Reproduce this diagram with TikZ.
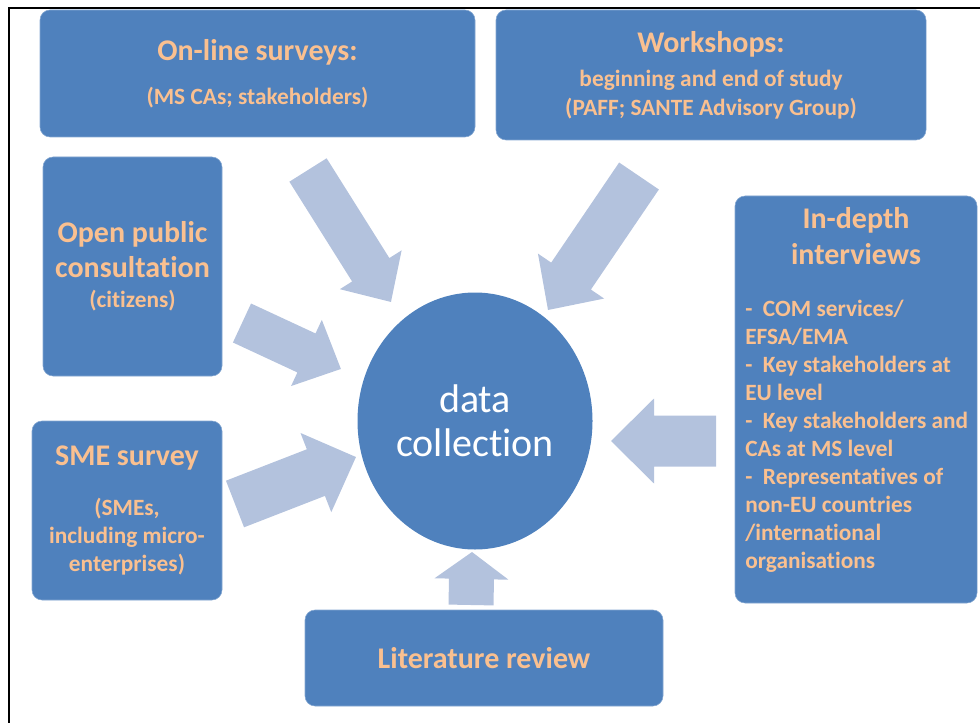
\documentclass[tikz,border=0pt]{standalone}
\usepackage{fontspec}
\setmainfont{Carlito}[Ligatures=NoCommon]
\usetikzlibrary{calc,shapes.geometric}

\definecolor{boxblue}{HTML}{4F81BD}
\definecolor{arrowblue}{HTML}{B3C2DD}
\definecolor{labelorange}{HTML}{FAC090}

\newcommand{\ttlsize}{\fontsize{22.5}{27}\selectfont}
\newcommand{\subsize}{\fontsize{17.5}{21}\selectfont}

% wide arrow from #1 to #2, shaft width #3, head width #4, head length #5 (px)
\newcommand{\blockarrow}[5]{%
  \path let \p1=($(#2)-(#1)$) in
    \pgfextra{\pgfmathsetmacro\arrang{atan2(\y1,\x1)}%
              \pgfmathsetmacro\arrlen{veclen(\x1,\y1)}%
              \global\let\arrang\arrang\global\let\arrlen\arrlen};
  \fill[arrowfill,shift={(#1)},rotate=\arrang]
    (0pt,{-0.375pt*#3}) -- ({\arrlen pt-0.75pt*#5},{-0.375pt*#3})
    -- ({\arrlen pt-0.75pt*#5},{-0.375pt*#4}) -- (\arrlen pt,0pt)
    -- ({\arrlen pt-0.75pt*#5},{0.375pt*#4}) -- ({\arrlen pt-0.75pt*#5},{0.375pt*#3})
    -- (0pt,{0.375pt*#3}) -- cycle;
}

\begin{document}
\begin{tikzpicture}[x=0.75pt,y=-0.75pt]
  \tikzset{
    srcbox/.style={draw=boxblue!70!white, line width=0.4pt, fill=boxblue,
      rounded corners=7.5pt, inner sep=0pt, align=center,
      text=labelorange, font=\subsize\bfseries},
    arrowfill/.style={fill=arrowblue},
    orangetext/.style={inner sep=0pt, text=labelorange},
  }
  \useasboundingbox (0,0) rectangle (980,723);
  \draw[line width=1.7pt] (9,723) -- (9,8) -- (980,8);

  % sources
  \node[srcbox, minimum width=326.25pt, minimum height=95.25pt] (online) at (257.5,73.5)
    {{\ttlsize On-line surveys:}\\[12pt](MS CAs; stakeholders)};
  \node[srcbox, minimum width=322.5pt, minimum height=97.5pt] (workshops) at (711,75)
    {{\ttlsize Workshops:}\\[4.5pt]beginning and end of study\\[1pt](PAFF; SANTE Advisory Group)};
  \node[srcbox, minimum width=134.25pt, minimum height=164.25pt] (opencons) at (132.5,266.5)
    {{\ttlsize Open public}\\[5pt]{\ttlsize consultation}\\[2pt](citizens)};
  \node[srcbox, minimum width=142.5pt, minimum height=134.25pt] (sme) at (127,510.5)
    {{\ttlsize SME survey}\\[16pt](SMEs,\\including micro-\\enterprises)};
  \node[srcbox, minimum width=181.5pt, minimum height=305.25pt] (indepth) at (856,399.5) {};
  \node[orangetext, align=center, font=\ttlsize\bfseries] (indepth-title) at (856,236)
    {In-depth\\interviews};
  \node[orangetext, align=left, font=\subsize\bfseries, anchor=north west] (indepth-list) at (745,300)
    {-\ \ COM services/\\EFSA/EMA\\-\ \ Key stakeholders at\\EU level\\
     -\ \ Key stakeholders and\\CAs at MS level\\-\ \ Representatives of\\
     non-EU countries\\/international\\organisations};
  \node[srcbox, minimum width=268.5pt, minimum height=72pt, font=\ttlsize\bfseries] (litrev) at (484,658)
    {Literature review};

  % centre
  \node[ellipse, fill=boxblue, minimum width=176.25pt, minimum height=192.75pt,
    inner sep=0pt, align=center, text=white, font=\fontsize{30}{33}\selectfont] (datacoll) at (475,421)
    {data\\collection};

  % arrows
  \coordinate (online-tail) at (308,170);    \coordinate (online-tip) at (391,302);
  \coordinate (workshops-tail) at (639,176); \coordinate (workshops-tip) at (548,310);
  \coordinate (opencons-tail) at (242,323);  \coordinate (opencons-tip) at (341,369);
  \coordinate (sme-tail) at (235,504);       \coordinate (sme-tip) at (356,457);
  \coordinate (indepth-tail) at (716,441);   \coordinate (indepth-tip) at (611,441);
  \coordinate (litrev-tail) at (471,605);    \coordinate (litrev-tip) at (472,552);
  \blockarrow{online-tail}{online-tip}{44}{73}{38}
  \blockarrow{workshops-tail}{workshops-tip}{48}{80}{41}
  \blockarrow{opencons-tail}{opencons-tip}{43}{73}{38}
  \blockarrow{sme-tail}{sme-tip}{50}{85}{43}
  \blockarrow{indepth-tail}{indepth-tip}{51}{85}{43}
  \blockarrow{litrev-tail}{litrev-tip}{45}{74}{27}
\end{tikzpicture}
\end{document}
